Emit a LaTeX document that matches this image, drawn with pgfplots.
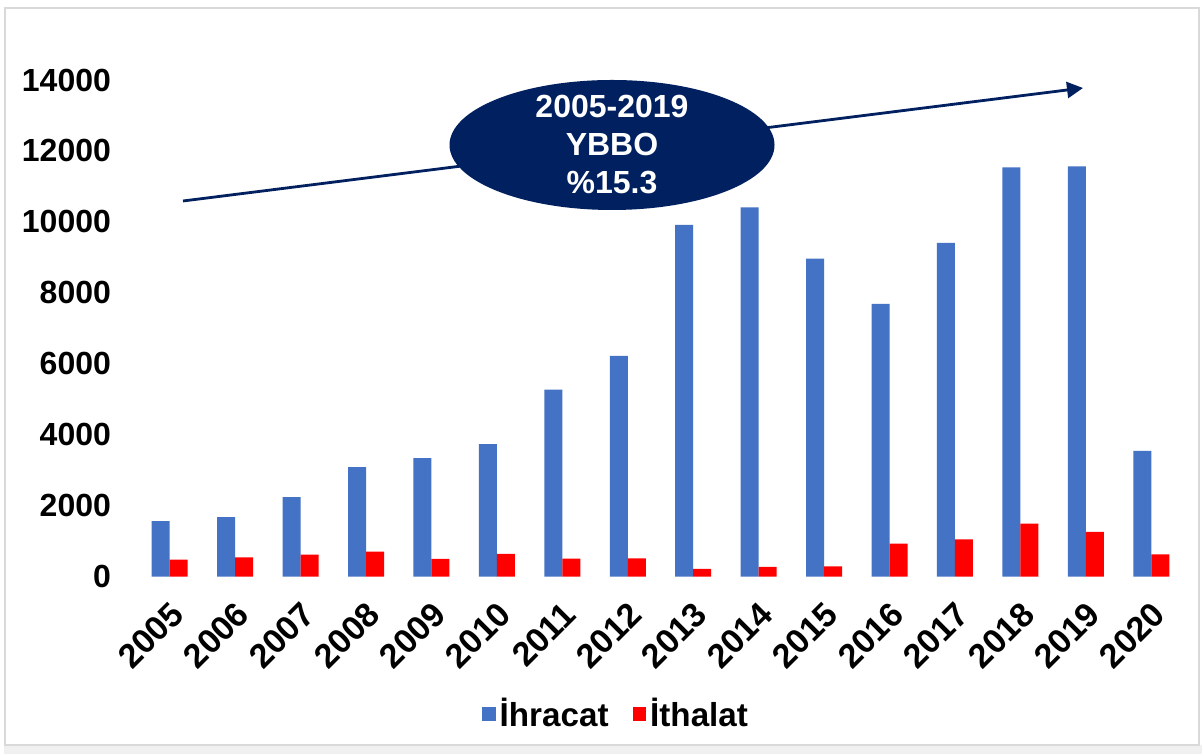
\documentclass[border=0pt]{standalone}
\usepackage{fontspec}
\setmainfont{Liberation Sans}
\usepackage{pgfplots}
\pgfplotsset{compat=1.18}
\usetikzlibrary{arrows.meta,shapes.geometric}
\definecolor{barblue}{HTML}{4472C4}
\definecolor{barred}{HTML}{FF0000}
\definecolor{navy}{HTML}{002060}
\definecolor{framegray}{HTML}{D9D9D9}
\newcommand{\lblfont}{\bfseries\fontsize{16}{19}\selectfont}
\newcommand{\xlblfont}{\bfseries\fontsize{17}{20}\selectfont}
\newcommand{\leglblfont}{\bfseries\fontsize{16.6}{20}\selectfont}
\begin{document}
\begin{tikzpicture}[x=1pt,y=1pt]
\useasboundingbox (0,0) rectangle (601,377);
\fill[white] (0,0) rectangle (601,377);
\fill[gray!12] (2,0) rectangle (601,4.5);
\draw[framegray, line width=1pt] (2.5,4.5) rectangle (599.5,373);
\begin{axis}[
  at={(68.5pt,88.75pt)}, anchor=south west, scale only axis,
  width=523.5pt, height=248.25pt,
  xmin=-0.5, xmax=15.5, ymin=0, ymax=14000,
  scaled y ticks=false,
  axis line style={draw=none},
  major tick length=0pt,
  tick style={draw=none},
  ybar=0pt, bar width=9pt,
  xtick={0,1,2,3,4,5,6,7,8,9,10,11,12,13,14,15},
  xticklabels={2005,2006,2007,2008,2009,2010,2011,2012,2013,2014,2015,2016,2017,2018,2019,2020},
  ytick={0,2000,4000,6000,8000,10000,12000,14000},
  yticklabels={0,2000,4000,6000,8000,10000,12000,14000},
  yticklabel style={font=\lblfont, anchor=east, xshift=-9.5pt},
  xticklabel style={font=\xlblfont, rotate=45, anchor=east, yshift=-14pt, xshift=-5pt},
  legend image code/.code={\fill[#1] (0pt,-3.4pt) rectangle (6.8pt,3.4pt);},
  legend style={draw=none, fill=none, legend columns=2, font=\leglblfont,
    at={(0.4585,-0.277)}, anchor=center,
    /tikz/every even column/.append style={column sep=10pt}},
  clip=false,
]
\addplot[fill=barblue, draw=none] coordinates {
  (0,1559) (1,1672) (2,2237) (3,3084) (4,3338) (5,3733) (6,5267) (7,6218)
  (8,9918) (9,10406) (10,8966) (11,7687) (12,9410) (13,11536) (14,11564) (15,3544)};
\addplot[fill=barred, draw=none] coordinates {
  (0,474) (1,542) (2,616) (3,700) (4,494) (5,635) (6,503) (7,514)
  (8,212) (9,268) (10,288) (11,926) (12,1050) (13,1491) (14,1257) (15,627)};
\legend{İhracat, İthalat}
\end{axis}
\draw[navy, line width=1.4pt, -{Triangle[length=8pt,width=8pt]}] (91.5,276.5) -- (541.5,333);
\node[ellipse, fill=navy, minimum width=162.5pt, minimum height=65pt, inner sep=0pt] at (306,304.5) {};
\node[text=white, font=\lblfont, align=center, inner sep=0pt] at (306,304.5)
  {\baselineskip=20pt 2005-2019\\YBBO\\\%15.3};
\end{tikzpicture}
\end{document}
